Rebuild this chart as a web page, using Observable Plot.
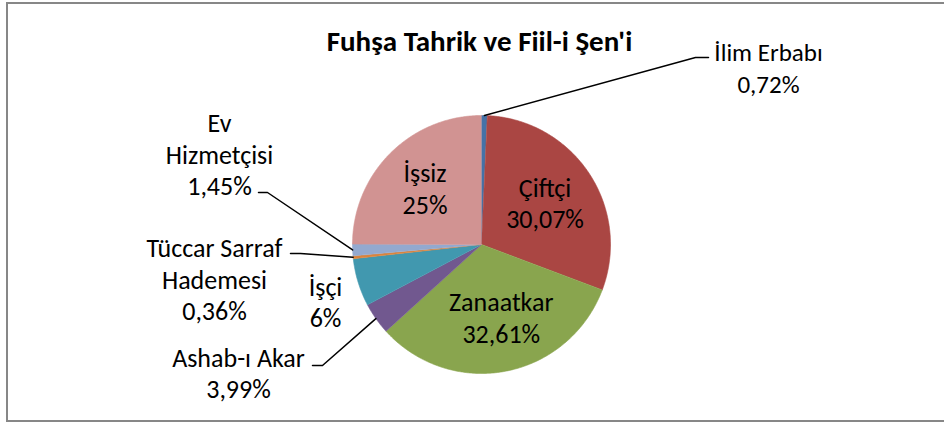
<!DOCTYPE html>
<html>
<head>
<meta charset="utf-8">
<script src="https://cdn.jsdelivr.net/npm/d3@7"></script>
<script src="https://cdn.jsdelivr.net/npm/@observablehq/plot@0.6"></script>
<style>
  html, body { margin: 0; padding: 0; background: #fff; overflow: hidden; }
  #wrap { position: relative; width: 944px; height: 426px; }
  #frame { position: absolute; left: 6px; top: 2px; width: 960px; height: 420px; border: 2px solid #878787; box-sizing: border-box; pointer-events: none; }
</style>
</head>
<body>
<div id="wrap"><div id="frame"></div></div>
<script>
const title = "Fuhşa Tahrik ve Fiil-i Şen'i";
const categories = ["İlim Erbabı", "Çiftçi", "Zanaatkar", "Ashab-ı Akar", "İşçi", "Tüccar Sarraf Hademesi", "Ev Hizmetçisi", "İşsiz"];
const displayNames = ["İlim Erbabı", "Çiftçi", "Zanaatkar", "Ashab-ı Akar", "İşçi", "Tüccar Sarraf\nHademesi", "Ev\nHizmetçisi", "İşsiz"];
const values = [0.72, 30.07, 32.61, 3.99, 6, 0.36, 1.45, 25];
const valueLabels = ["0,72%", "30,07%", "32,61%", "3,99%", "6%", "0,36%", "1,45%", "25%"];
const colors = ["#4572A7", "#AA4643", "#89A54E", "#71588F", "#4198AF", "#DB843D", "#93A9CF", "#D19392"];

// layout (pixels)
const cx = 481, cy = 244, R = 129;
const FONT = "Carlito, Calibri, Lato, sans-serif";
const labelLayout = {
  "Çiftçi": {k: 0.59},
  "Zanaatkar": {k: 0.57, dx: 6},
  "İşsiz": {k: 0.62},
  "İşçi": {pos: [325, 301]},
  "İlim Erbabı": {pos: [768, 66], leader: [[708, 57], [695, 57]], size: 25},
  "Ev Hizmetçisi": {pos: [219, 153], leader: [[258, 192], [267, 192]]},
  "Tüccar Sarraf Hademesi": {pos: [214, 278], leader: [[290, 253], [300, 253]]},
  "Ashab-ı Akar": {pos: [238, 372], leader: [[312, 365], [322, 365]]}
};

const arcs = d3.pie().sort(null).value(d => d)(values);
const pt = (a, r) => [cx + r * Math.sin(a), cy - r * Math.cos(a)];

const slicePts = [];
arcs.forEach((a, i) => {
  const name = categories[i];
  slicePts.push({name, x: cx, y: cy});
  const n = Math.max(2, Math.ceil((a.endAngle - a.startAngle) / (Math.PI / 360)));
  for (let j = 0; j <= n; j++) {
    const t = a.startAngle + (a.endAngle - a.startAngle) * j / n;
    const [x, y] = pt(t, R);
    slicePts.push({name, x, y});
  }
});

const labels = [];
const leaders = [];
arcs.forEach((a, i) => {
  const name = categories[i];
  const mid = (a.startAngle + a.endAngle) / 2;
  const L = labelLayout[name];
  let x, y;
  if (L.pos) { [x, y] = L.pos; }
  else { [x, y] = pt(mid, R * L.k); x += (L.dx || 0); }
  labels.push({name, x, y, size: L.size || 26, text: displayNames[i] + "\n" + valueLabels[i]});
  if (L.leader) {
    L.leader.forEach(([lx, ly]) => leaders.push({name, x: lx, y: ly}));
    const [ex, ey] = pt(mid, R);
    leaders.push({name, x: ex, y: ey});
  }
});

const chart = Plot.plot({
  width: 944,
  height: 426,
  margin: 0,
  x: {domain: [0, 944], range: [0, 944], axis: null},
  y: {domain: [0, 426], range: [0, 426], axis: null},
  color: {domain: categories, range: colors},
  style: {fontFamily: FONT, background: "transparent"},
  marks: [
    Plot.line(slicePts, {x: "x", y: "y", z: "name", fill: "name", stroke: "name", strokeWidth: 0.6, curve: "linear"}),
    Plot.line(leaders, {x: "x", y: "y", z: "name", stroke: "#000", strokeWidth: 1.5, fill: "none"}),
    Plot.text(labels.filter(d => d.size === 26), {x: "x", y: "y", text: "text", fontSize: 26, lineHeight: 1.21, fill: "#000", fontFamily: FONT}),
    Plot.text(labels.filter(d => d.size !== 26), {x: "x", y: "y", text: "text", fontSize: 25, lineHeight: 1.3, fill: "#000", fontFamily: FONT}),
    Plot.text([title], {x: 479, y: 41, text: d => d, fontSize: 29, fontWeight: "bold", fill: "#000", fontFamily: FONT})
  ]
});
document.getElementById("wrap").prepend(chart);
</script>
</body>
</html>
